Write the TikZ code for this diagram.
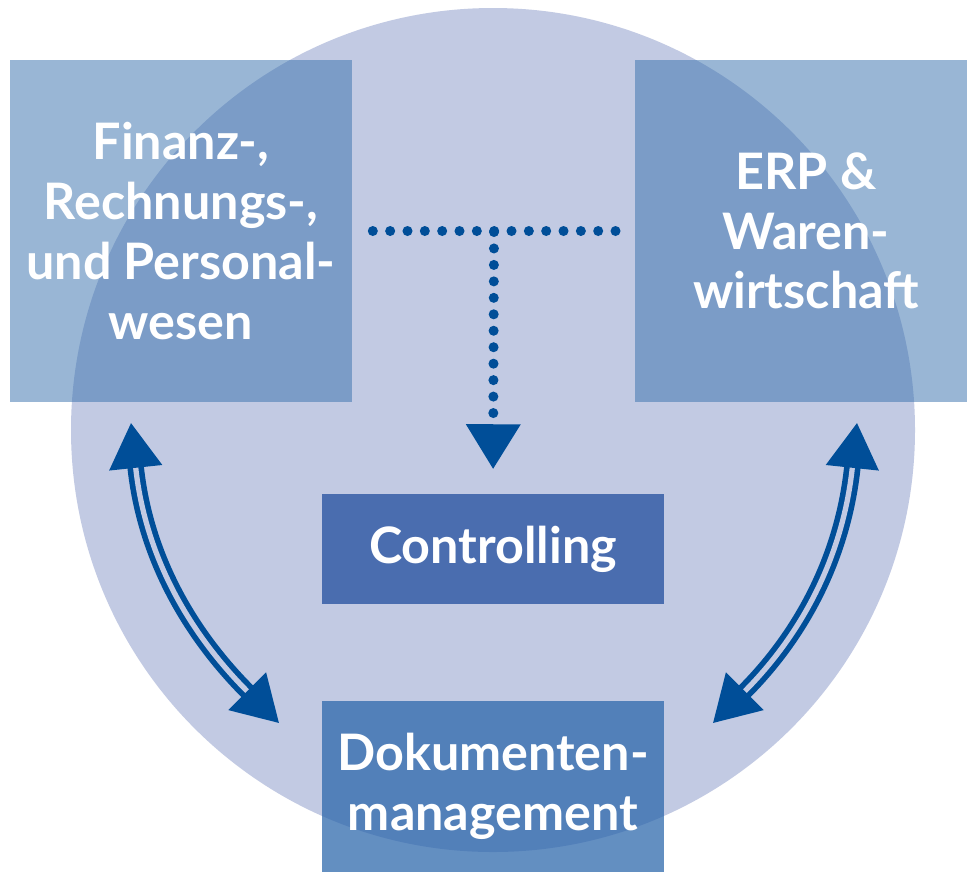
\documentclass[tikz,border=0pt]{standalone}
\usepackage{fontspec}
\setmainfont{Lato}
\usetikzlibrary{positioning,arrows.meta}
\definecolor{ringfill}{RGB}{194,202,227}
\definecolor{sidefill}{RGB}{53,111,173}
\definecolor{dokfill}{RGB}{40,100,170}
\definecolor{ctrlfill}{RGB}{74,109,175}
\definecolor{arrblue}{RGB}{0,78,152}
\tikzset{
	area/.style={fill=sidefill,fill opacity=0.5,text opacity=1,text=white,
		align=center,inner sep=0pt,minimum width=3.42cm,minimum height=3.42cm,
		font=\bfseries\fontsize{14.3}{17}\selectfont},
	unit/.style={fill=ctrlfill,text=white,align=center,inner sep=0pt,
		minimum width=3.42cm,font=\bfseries\fontsize{14.3}{17}\selectfont},
	dotline/.style={draw=arrblue,line width=2.85pt,line cap=round},
	link/.style={draw=arrblue,line width=1.6pt,double=ringfill,double distance=1.5pt,
		{Triangle[length=12.8pt,width=14.8pt]}-{Triangle[length=12.8pt,width=14.8pt]}}
}

\begin{document}
\begin{tikzpicture}[x=0.01cm,y=0.01cm]
	\useasboundingbox[fill=white] (0,0) rectangle (967,-872);
	\fill[ringfill] (493,-430) circle (422);
	
	\node[area] (fin) at (181,-231) {Finanz-,\\Rechnungs-,\\und Personal-\\wesen};
	\node[area] (erp) at (806,-231) {ERP \&\\Waren-\\wirtschaft};
	\node[unit,minimum height=1.1cm] (ctrl) at (493,-549) {Controlling};
	\node[unit,fill=dokfill,fill opacity=0.72,text opacity=1,minimum height=1.71cm]
		(dok) [below=0.95cm of ctrl] {Dokumenten-\\management};
	
	\coordinate (jn) at (494,-232);
	\coordinate (finA) at (131,-423);
	\coordinate (finB) at (279,-723);
	\coordinate (erpA) at (857,-423);
	\coordinate (erpB) at (713,-723);
	
	\draw[dotline,dash pattern=on 0pt off 4.93pt] ([xshift=0.2cm]fin.east) -- ([xshift=-0.15cm]erp.west);
	\draw[dotline,dash pattern=on 0pt off 4.68pt,shorten >=6.83pt,
		-{Triangle[length=12.8pt,width=14.8pt]}] (jn) -- (ctrl.north);
	
	\draw[link] (finA) to[out=-84,in=135] (finB);
	\draw[link] (erpA) to[out=-96,in=45] (erpB);
\end{tikzpicture}
\end{document}
